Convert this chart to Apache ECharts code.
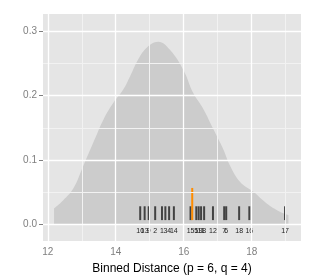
<!DOCTYPE html>
<html>
<head>
<meta charset="utf-8">
<script src="https://cdn.jsdelivr.net/npm/echarts@6/dist/echarts.min.js"></script>
<style>html,body{margin:0;padding:0;background:#fff;}#c{width:315px;height:280px;}</style>
</head>
<body>
<div id="c"></div>
<script>
// Density curve (x, density)
var densityX = [12.185, 12.45, 12.75, 13.05, 13.34, 13.64, 13.93, 14.22, 14.42, 14.71, 15.01, 15.25, 15.60, 15.99, 16.28, 16.58, 16.87, 17.16, 17.36, 17.66, 18.05, 18.44, 18.83, 19.08];
var densityY = [0.0247, 0.037, 0.0555, 0.0914, 0.127, 0.163, 0.189, 0.2096, 0.230, 0.261, 0.279, 0.284, 0.271, 0.240, 0.204, 0.179, 0.148, 0.117, 0.0914, 0.0658, 0.0504, 0.0324, 0.0196, 0.0143];
// Rug marks
var rugX = [14.72, 14.85, 14.97, 15.16, 15.36, 15.46, 15.57, 15.71, 16.20, 16.37, 16.44, 16.51, 16.60, 16.86, 17.19, 17.25, 17.63, 17.93, 18.98];
var rugLabels = ['10', '13', '9', '2', '1', '3', '4', '14', '15', '5', '19', '11', '8', '12', '7', '6', '18', '16', '17'];
var rugBottom = 0.0065, rugTop = 0.028, labelY = -0.0105;
// Highlighted observation
var highlightX = 16.25, highlightTop = 0.0565;
// Axes
var xTicks = [12, 14, 16, 18], xMinor = [13, 15, 17, 19];
var yTicks = [0, 0.1, 0.2, 0.3], yMinor = [0.05, 0.15, 0.25];
var xMin = 11.86, xMax = 19.45, yMin = -0.026, yMax = 0.327;
var xTitle = 'Binned Distance (p = 6, q = 4)';

var densityData = densityX.map(function (x, i) { return [x, densityY[i]]; });
var rugData = rugX.map(function (x, i) { return [x, rugBottom, rugTop, rugLabels[i]]; });

function gridLines(vals, axis, color, width) {
  return vals.map(function (v) {
    var o = { lineStyle: { color: color, width: width, type: 'solid' } };
    o[axis] = v;
    return o;
  });
}

var chart = echarts.init(document.getElementById('c'), null, { renderer: 'canvas' });
chart.setOption({
  animation: false,
  grid: { left: 43, right: 14, top: 14, bottom: 37, show: true, backgroundColor: '#E5E5E5', borderWidth: 0 },
  xAxis: {
    type: 'value', min: xMin, max: xMax,
    name: xTitle, nameLocation: 'middle', nameGap: 22,
    nameTextStyle: { color: '#000', fontSize: 12, fontFamily: 'Liberation Sans' },
    axisLine: { show: false },
    axisTick: { show: true, customValues: xTicks, length: 4, lineStyle: { color: '#7F7F7F' } },
    axisLabel: { customValues: xTicks, color: '#7F7F7F', fontSize: 10, margin: 6, fontFamily: 'Liberation Sans' },
    splitLine: { show: false }
  },
  yAxis: {
    type: 'value', min: yMin, max: yMax,
    axisLine: { show: false },
    axisTick: { show: true, customValues: yTicks, length: 4, lineStyle: { color: '#7F7F7F' } },
    axisLabel: { customValues: yTicks, color: '#7F7F7F', fontSize: 10, margin: 6, fontFamily: 'Liberation Sans',
      formatter: function (v) { return v.toFixed(1); } },
    splitLine: { show: false }
  },
  series: [
    {
      type: 'line', data: [], silent: true, z: 1,
      markLine: {
        silent: true, symbol: 'none', label: { show: false }, animation: false,
        data: [].concat(
          gridLines(xMinor, 'xAxis', '#F2F2F2', 1),
          gridLines(yMinor, 'yAxis', '#F2F2F2', 1),
          gridLines(xTicks, 'xAxis', '#FFFFFF', 1.3),
          gridLines(yTicks, 'yAxis', '#FFFFFF', 1.3)
        )
      }
    },
    {
      type: 'line', data: densityData, smooth: 0.4, symbol: 'none', z: 2,
      lineStyle: { width: 0, color: '#CCCCCC' },
      areaStyle: { color: '#CCCCCC', opacity: 1 }
    },
    {
      type: 'custom', z: 3, data: rugData,
      renderItem: function (params, api) {
        var p0 = api.coord([api.value(0), api.value(1)]);
        var p1 = api.coord([api.value(0), api.value(2)]);
        var pl = api.coord([api.value(0), labelY]);
        return {
          type: 'group',
          children: [
            { type: 'line', shape: { x1: p0[0], y1: p0[1], x2: p1[0], y2: p1[1] },
              style: { stroke: 'rgba(0,0,0,0.68)', lineWidth: 2 } },
            { type: 'text', x: pl[0], y: pl[1],
              style: { text: rugLabels[params.dataIndex], fill: '#222', fontSize: 7, fontFamily: 'Liberation Sans',
                align: 'center', verticalAlign: 'middle' } }
          ]
        };
      }
    },
    {
      type: 'custom', z: 4, data: [[highlightX, rugBottom, highlightTop]],
      renderItem: function (params, api) {
        var p0 = api.coord([api.value(0), api.value(1)]);
        var p1 = api.coord([api.value(0), api.value(2)]);
        return { type: 'line', shape: { x1: p0[0], y1: p0[1], x2: p1[0], y2: p1[1] },
          style: { stroke: '#FF8C00', lineWidth: 2 } };
      }
    }
  ]
});
</script>
</body>
</html>
